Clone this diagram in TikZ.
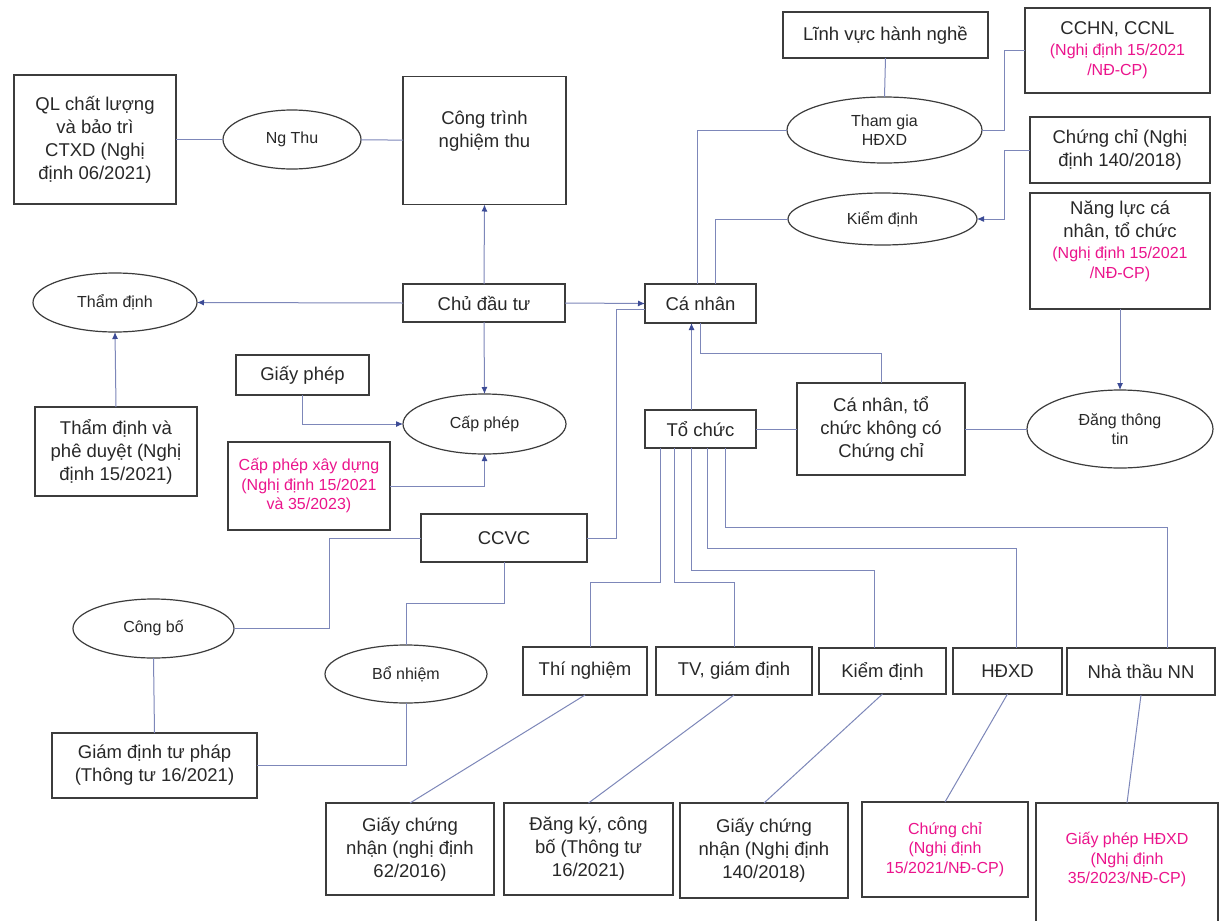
\documentclass[tikz,border=0pt]{standalone}
\usepackage{fontspec}
\setmainfont{Liberation Sans}
\usetikzlibrary{shapes.geometric,arrows.meta,calc}
\definecolor{boxc}{RGB}{60,60,60}
\definecolor{linec}{RGB}{125,135,185}
\definecolor{arrc}{RGB}{60,75,150}
\definecolor{pinkc}{RGB}{235,20,140}
\definecolor{txtc}{RGB}{40,40,40}
\newcommand{\BoxFont}{\fontsize{18.5}{23}\selectfont}
\newcommand{\EllFont}{\fontsize{16}{19}\selectfont}
\newcommand{\PinkFont}{\fontsize{16}{19.5}\selectfont}
\newcommand{\PinkTxt}[1]{{\PinkFont\color{pinkc}#1}}
\begin{document}
\begin{tikzpicture}[x=1pt,y=-1pt,
  box/.style={draw=boxc,line width=1.4pt,rectangle,align=center,inner sep=1pt,outer sep=0pt,text=txtc,font=\BoxFont},
  ell/.style={draw=boxc,line width=1.2pt,ellipse,align=center,inner sep=0pt,outer sep=0pt,text=txtc,font=\EllFont},
  sz/.style 2 args={minimum width=#1pt,minimum height=#2pt},
  pk/.style={font=\PinkFont,text=pinkc},
  conn/.style={draw=linec,line width=1pt},
  arr/.style={conn,-{Latex[length=7pt,width=6pt,color=arrc]}}]
\fill[white] (0,0) rectangle (1219,921);
\useasboundingbox (0,0) rectangle (1219,921);

% nodes
\node[box,sz={162}{129}] (ql) at (95,139.5) {QL chất lượng\\và bảo trì\\CTXD (Nghị\\định 06/2021)};
\node[ell,sz={138}{59}] (ngthu) at (292,139.5) {Ng Thu};
\node[box,sz={163}{128}] (ct) at (484.5,140.5) {Công trình\\nghiệm thu\\\mbox{}};
\node[box,sz={205}{46}] (lvhn) at (885.5,35) {Lĩnh vực hành nghề};
\node[box,sz={185}{85}] (cchn) at (1117.5,50.5) {CCHN, CCNL\\[-2pt]\PinkTxt{(Nghị định 15/2021}\\[-3pt]\PinkTxt{/NĐ-CP)}};
\node[ell,sz={195}{66}] (thamgia) at (884.5,130) {Tham gia\\HĐXD};
\node[box,sz={180}{66}] (cc140) at (1120,150) {Chứng chỉ (Nghị\\định 140/2018)};
\node[ell,sz={189}{52}] (kd1) at (882.5,219) {Kiểm định};
\node[box,sz={180}{116}] (nangluc) at (1120,251) {Năng lực cá\\nhân, tổ chức\\[-2pt]\PinkTxt{(Nghị định 15/2021}\\[-3pt]\PinkTxt{/NĐ-CP)}\\\mbox{}};
\node[ell,sz={164}{59}] (thamdinh) at (115,302.5) {Thẩm định};
\node[box,sz={162}{38}] (cdt) at (484,303) {Chủ đầu tư};
\node[box,sz={111}{39}] (canhan) at (700.5,303.5) {Cá nhân};
\node[box,sz={133}{40}] (giayphep) at (302.5,375) {Giấy phép};
\node[ell,sz={163}{60}] (capphep) at (484.5,424) {Cấp phép};
\node[box,sz={111}{38}] (tochuc) at (700.5,429) {Tổ chức};
\node[box,sz={168}{92}] (cntc) at (881,429) {Cá nhân, tổ\\chức không có\\Chứng chỉ};
\node[ell,sz={186}{78}] (dangtt) at (1120,429) {Đăng thông\\tin};
\node[box,sz={162}{89}] (tdpd) at (116,451.5) {Thẩm định và\\phê duyệt (Nghị\\định 15/2021)};
\node[box,pk,sz={162}{88}] (cpxd) at (309,486) {Cấp phép xây dựng\\(Nghị định 15/2021\\và 35/2023)};
\node[box,sz={166}{48}] (ccvc) at (504,538) {CCVC};
\node[ell,sz={161}{59}] (congbo) at (153.5,628.5) {Công bố};
\node[ell,sz={162}{58}] (bonhiem) at (406,674) {Bổ nhiệm};
\node[box,sz={205}{65}] (gdtp) at (154.5,765.5) {Giám định tư pháp\\(Thông tư 16/2021)};

\node[box,sz={124}{48}] (tn) at (585,671) {Thí nghiệm};
\node[box,sz={156}{48}] (tv) at (734,671) {TV, giám định};
\node[box,sz={127}{46}] (kd2) at (882.5,671) {Kiểm định};
\node[box,sz={109}{46}] (hdxd) at (1007.5,671) {HĐXD};
\node[box,sz={148}{47}] (ntnn) at (1141,671.5) {Nhà thầu NN};

\node[box,sz={168}{92}] (gcn62) at (410,849) {Giấy chứng\\nhận (nghị định\\62/2016)};
\node[box,sz={169}{92}] (dkcb) at (588.5,849) {Đăng ký, công\\bố (Thông tư\\16/2021)};
\node[box,sz={168}{95}] (gcn140) at (764,850.5) {Giấy chứng\\nhận (Nghị định\\140/2018)};
\node[box,pk,sz={166}{95}] (cc15) at (945,849.5) {Chứng chỉ\\(Nghị định\\15/2021/NĐ-CP)};
\node[box,pk,sz={182}{130},anchor=north] (gphdxd) at (1127,803) {Giấy phép HĐXD\\(Nghị định\\35/2023/NĐ-CP)\\\mbox{}};

% connectors
\draw[conn] (ql) -- (ngthu);
\draw[conn] (ngthu) -- (ct);
\draw[conn] (lvhn.south) -- (thamgia.north);
\draw[conn] (thamgia.east) -- ++(22,0) |- (cchn.west);
\draw[arr] (cc140.west) -- ++(-26,0) |- (kd1.east);
\draw[conn] ($(canhan.north west)+(52,0)$) |- (thamgia.west);
\draw[conn] ($(canhan.north west)+(70,0)$) |- (kd1.west);
\draw[arr] (cdt.east) -- (canhan.west);
\draw[arr] (cdt.north) -- (ct.south);
\draw[arr] (cdt.west) -- (thamdinh.east);
\draw[arr] (cdt.south) -- (capphep.north);
\draw[arr] (tdpd.north) -- (thamdinh.south);
\draw[arr] (giayphep.south) |- (capphep.west);
\draw[arr] (cpxd.east) -| (capphep.south);
\draw[conn] (ccvc.east) -- ++(29,0) |- ($(canhan.west)+(0,6)$);
\draw[conn] (ccvc.west) -- ++(-92,0) |- (congbo.east);
\draw[conn] (ccvc.south) -- ++(0,41) -| (bonhiem.north);
\draw[conn] (congbo.south) -- (gdtp.north);
\draw[conn] (bonhiem.south) |- (gdtp.east);
\draw[arr] ($(tochuc.north)+(-9,0)$) -- ($(canhan.south)+(-9,0)$);
\draw[conn] (cntc.north) -- ++(0,-30) -| (canhan.south);
\draw[conn] (tochuc.east) -- (cntc.west);
\draw[conn] (cntc.east) -- (dangtt.west);
\draw[arr] (nangluc.south) -- (dangtt.north);

\draw[conn] ($(tochuc.south)+(-40.5,0)$) -- ++(0,134) -| ($(tn.north)+(5,0)$);
\draw[conn] ($(tochuc.south)+(-26.5,0)$) -- ++(0,134) -| (tv.north);
\draw[conn] ($(tochuc.south)+(-9.5,0)$) -- ++(0,122) -| ($(kd2.north)+(-8,0)$);
\draw[conn] ($(tochuc.south)+(6.5,0)$) -- ++(0,100) -| ($(hdxd.north)+(9,0)$);
\draw[conn] ($(tochuc.south)+(24.5,0)$) -- ++(0,79) -| ($(ntnn.north)+(26,0)$);

\draw[conn] (tn.south) -- (gcn62.north);
\draw[conn] (tv.south) -- (dkcb.north);
\draw[conn] (kd2.south) -- (gcn140.north);
\draw[conn] (hdxd.south) -- (cc15.north);
\draw[conn] (ntnn.south) -- (gphdxd.north);
\end{tikzpicture}
\end{document}
